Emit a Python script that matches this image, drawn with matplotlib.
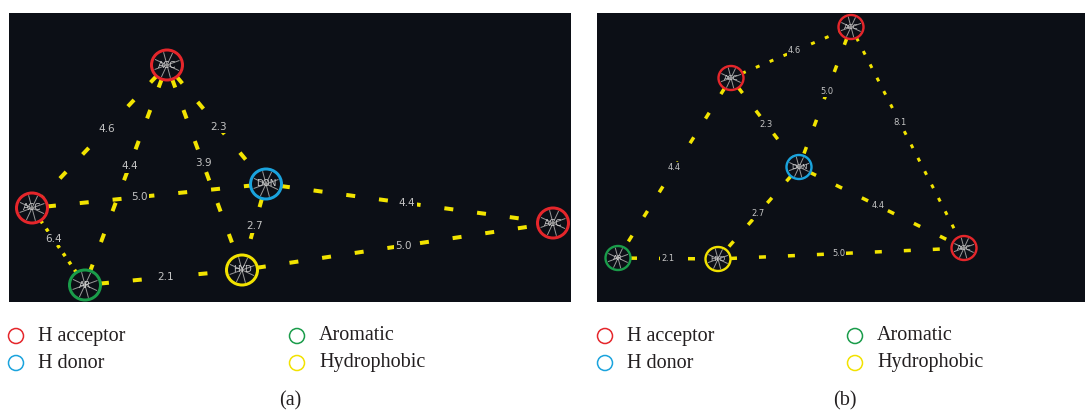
import matplotlib.pyplot as plt
import numpy as np
from matplotlib.patches import Ellipse

plt.rcParams['lines.scale_dashes'] = False

# panel (a) pharmacophore: feature types and positions (image pixels inside the panel)
a_types = ["ACC", "ACC", "DON", "AR", "HYD", "ACC"]
a_x = [158, 23, 257, 76, 233, 544]
a_y = [52, 195, 171, 272, 257, 210]
a_edges = [(0, 1), (0, 3), (0, 4), (0, 2), (1, 2), (1, 3), (3, 4), (2, 4), (2, 5), (4, 5)]
a_dist = ["4.6", "4.4", "3.9", "2.3", "5.0", "6.4", "2.1", "2.7", "4.4", "5.0"]
a_dotted = [False, False, False, False, False, True, False, False, False, False]

# panel (b)
b_types = ["ACC", "ACC", "DON", "AR", "HYD", "ACC"]
b_x = [134, 254, 202, 21, 121, 367]
b_y = [65, 14, 154, 245, 246, 235]
b_edges = [(0, 1), (1, 2), (1, 5), (0, 2), (0, 3), (2, 4), (2, 5), (3, 4), (4, 5)]
b_dist = ["4.6", "5.0", "8.1", "2.3", "4.4", "2.7", "4.4", "2.1", "5.0"]
b_dotted = [True, False, True, False, False, False, False, False, False]

legend_names = ["H acceptor", "H donor", "Aromatic", "Hydrophobic"]
legend_colors = ["#e5262b", "#1aa3dd", "#1a9c4a", "#f2e200"]

type_colors = {"ACC": "#e5262b", "DON": "#1aa3dd", "AR": "#1a9c4a", "HYD": "#f2e200"}
BG = "#0c0f16"
YEL = "#f2e400"
PX = 0.72  # points per pixel at dpi 100


def draw_panel(ax, types, xs, ys, edges, dist, dotted, r, lw_ring, dash, dot, lw_dash, lw_dot, fs, label_t):
    ax.set_facecolor(BG)
    for (i, j), d, dt, t in zip(edges, dist, dotted, label_t):
        on, off = dot if dt else dash
        lw = lw_dot if dt else lw_dash
        dx, dy = xs[j] - xs[i], ys[j] - ys[i]
        L = np.hypot(dx, dy)
        ux, uy = dx / L, dy / L
        # start and stop at the ring
        ax.plot([xs[i] + ux * r, xs[j] - ux * r], [ys[i] + uy * r, ys[j] - uy * r],
                color=YEL, lw=lw * PX, dashes=(on * PX, off * PX),
                dash_capstyle='butt', zorder=2)
        ax.text(xs[i] + t * dx, ys[i] + t * dy, d, color="#c4c4c4", fontsize=fs,
                ha='center', va='center', zorder=3,
                bbox=dict(boxstyle='square,pad=0.15', fc=BG, ec='none'))
    for k, tp in enumerate(types):
        c = type_colors[tp]
        for ang in [25, 75, 115, 160]:
            a = np.radians(ang)
            ax.plot([xs[k] - 0.85 * r * np.cos(a), xs[k] + 0.85 * r * np.cos(a)],
                    [ys[k] - 0.85 * r * np.sin(a), ys[k] + 0.85 * r * np.sin(a)],
                    color="#9a9a9a", lw=0.7, zorder=4)
        ax.text(xs[k], ys[k], tp, color="#d0d0d0", fontsize=fs * 0.85, ha='center', va='center', zorder=5)
        ax.add_patch(Ellipse((xs[k], ys[k]), 2 * r + 1, 2 * r, fill=False, ec=c, lw=lw_ring * PX, zorder=6))
    ax.set_xticks([])
    ax.set_yticks([])
    for s in ax.spines.values():
        s.set_visible(False)


fig = plt.figure(figsize=(10.85, 4.12), dpi=100)

axa = fig.add_axes([9 / 1085, (412 - 302) / 412, 562 / 1085, 289 / 412])
axa.set_xlim(0, 562)
axa.set_ylim(289, 0)
draw_panel(axa, a_types, a_x, a_y, a_edges, a_dist, a_dotted, r=15, lw_ring=3,
           dash=(9, 24), dot=(3.5, 6.5), lw_dash=4, lw_dot=3.5, fs=7.5,
           label_t=[0.45, 0.46, 0.48, 0.52, 0.46, 0.4, 0.51, 0.49, 0.49, 0.52])

axb = fig.add_axes([597 / 1085, (412 - 302) / 412, 488 / 1085, 289 / 412])
axb.set_xlim(0, 488)
axb.set_ylim(289, 0)
draw_panel(axb, b_types, b_x, b_y, b_edges, b_dist, b_dotted, r=12, lw_ring=2.4,
           dash=(7, 22), dot=(4, 11), lw_dash=3.5, lw_dot=3, fs=6,
           label_t=[0.53, 0.46, 0.43, 0.52, 0.5, 0.5, 0.48, 0.5, 0.49])

# legends and captions
ov = fig.add_axes([0, 0, 1, 1])
ov.set_xlim(0, 1085)
ov.set_ylim(412, 0)
ov.axis('off')
ov.patch.set_alpha(0)
for x0, col2, cap, cx in [(16, 297, "(a)", 290), (605, 855, "(b)", 845)]:
    pos = [(x0, 336), (x0, 363), (col2, 336), (col2, 363)]
    for (px, py), name, c in zip(pos, legend_names, legend_colors):
        ov.add_patch(Ellipse((px, py), 15, 15, fill=False, ec=c, lw=1.1))
        ov.text(px + 22, py, name, fontsize=14.5, family='Liberation Serif',
                color="#231f20", ha='left', va='center')
    ov.text(cx, 401, cap, fontsize=14.5, family='Liberation Serif', color="#231f20",
            ha='center', va='center')

fig.savefig("out.png", dpi=100, facecolor='white')
